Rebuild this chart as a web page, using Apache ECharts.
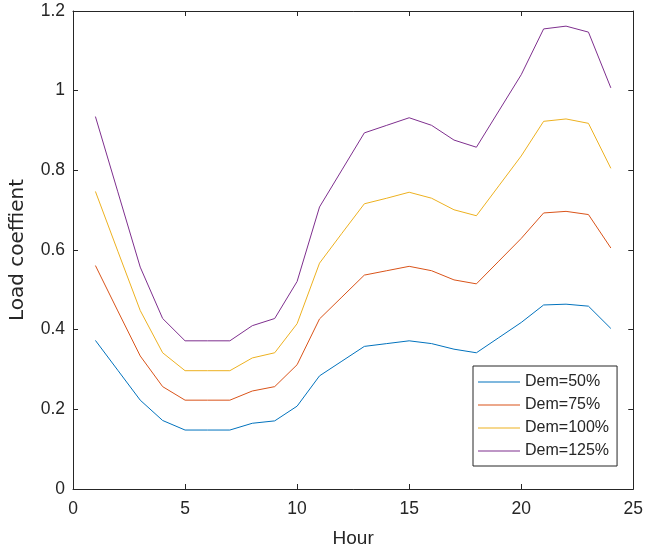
<!DOCTYPE html>
<html>
<head>
<meta charset="utf-8">
<script src="https://cdn.jsdelivr.net/npm/echarts@6/dist/echarts.min.js"></script>
<style>
  html, body { margin: 0; padding: 0; background: #fff; }
  #chart { width: 646px; height: 553px; }
</style>
</head>
<body>
<div id="chart"></div>
<script>
// Hourly load coefficient under four demand levels
const hours = [1, 2, 3, 4, 5, 6, 7, 8, 9, 10, 11, 12, 13, 14, 15, 16, 17, 18, 19, 20, 21, 22, 23, 24];
const seriesNames = ['Dem=50%', 'Dem=75%', 'Dem=100%', 'Dem=125%'];
const dem50  = [0.373, 0.298, 0.223, 0.172, 0.148, 0.148, 0.148, 0.165, 0.171, 0.208, 0.284, 0.321, 0.358, 0.365, 0.372, 0.365, 0.351, 0.342, 0.380, 0.418, 0.462, 0.464, 0.459, 0.403];
const dem75  = [0.561, 0.447, 0.334, 0.257, 0.223, 0.223, 0.223, 0.246, 0.257, 0.312, 0.427, 0.482, 0.537, 0.548, 0.559, 0.548, 0.525, 0.515, 0.572, 0.629, 0.693, 0.697, 0.689, 0.605];
const dem100 = [0.747, 0.597, 0.448, 0.342, 0.297, 0.297, 0.297, 0.329, 0.342, 0.415, 0.567, 0.642, 0.716, 0.730, 0.745, 0.730, 0.701, 0.686, 0.761, 0.836, 0.923, 0.929, 0.918, 0.805];
const dem125 = [0.935, 0.746, 0.557, 0.428, 0.372, 0.372, 0.372, 0.410, 0.428, 0.521, 0.708, 0.801, 0.894, 0.913, 0.932, 0.913, 0.876, 0.858, 0.949, 1.040, 1.155, 1.162, 1.147, 1.007];
const xTicks = [0, 5, 10, 15, 20, 25];
const yTicks = [0, 0.2, 0.4, 0.6, 0.8, 1, 1.2];

const colors = ['#0072BD', '#D95319', '#EDB120', '#7E2F8E'];
const values = [dem50, dem75, dem100, dem125];
const font = 'Liberation Sans, Arial, sans-serif';
const ink = '#262626';

const chart = echarts.init(document.getElementById('chart'), null, { renderer: 'canvas' });

const axisLine = { show: true, onZero: false, lineStyle: { color: ink, width: 1 } };
const tickIn = { show: true, inside: true, length: 5, lineStyle: { color: ink, width: 1 } };

chart.setOption({
  animation: false,
  color: colors,
  grid: { left: 70, right: 11, top: 11, bottom: 62, containLabel: false },
  legend: {
    orient: 'vertical',
    left: 473,
    top: 366,
    itemWidth: 42,
    itemHeight: 14,
    itemGap: 7,
    padding: [8, 8, 7, 5],
    borderColor: ink,
    borderWidth: 1,
    backgroundColor: '#fff',
    icon: 'path://M0,0L42,0L42,1L0,1Z',
    textStyle: { fontFamily: font, fontSize: 16, color: ink },
    data: seriesNames
  },
  xAxis: [{
    type: 'value', min: 0, max: 25, interval: 5,
    name: 'Hour', nameLocation: 'middle', nameGap: 40,
    nameTextStyle: { fontFamily: font, fontSize: 19, color: ink },
    axisLine, axisTick: tickIn,
    axisLabel: { fontFamily: font, fontSize: 17.5, color: ink, margin: 11,
      formatter: v => xTicks.includes(v) ? String(v) : '' },
    splitLine: { show: false }
  }, {
    type: 'value', position: 'top', min: 0, max: 25, interval: 5,
    axisLine, axisTick: tickIn, axisLabel: { show: false }, splitLine: { show: false }
  }],
  yAxis: [{
    type: 'value', min: 0, max: 1.2, interval: 0.2,
    name: 'Load coeffient', nameLocation: 'middle', nameGap: 45,
    nameTextStyle: { fontFamily: 'DejaVu Sans, sans-serif', fontSize: 20, color: ink },
    axisLine, axisTick: tickIn,
    axisLabel: { fontFamily: font, fontSize: 17.5, color: ink, margin: 8,
      formatter: v => { const t = yTicks.find(y => Math.abs(y - v) < 1e-9); return t === undefined ? '' : String(t); } },
    splitLine: { show: false }
  }, {
    type: 'value', position: 'right', min: 0, max: 1.2, interval: 0.2,
    axisLine, axisTick: tickIn, axisLabel: { show: false }, splitLine: { show: false }
  }],
  series: values.map((vals, i) => ({
    name: seriesNames[i],
    type: 'line',
    xAxisIndex: 0,
    yAxisIndex: 0,
    data: hours.map((h, k) => [h, vals[k]]),
    showSymbol: false,
    symbol: 'none',
    lineStyle: { width: 1, color: colors[i] },
    itemStyle: { color: colors[i] }
  }))
});
</script>
</body>
</html>
